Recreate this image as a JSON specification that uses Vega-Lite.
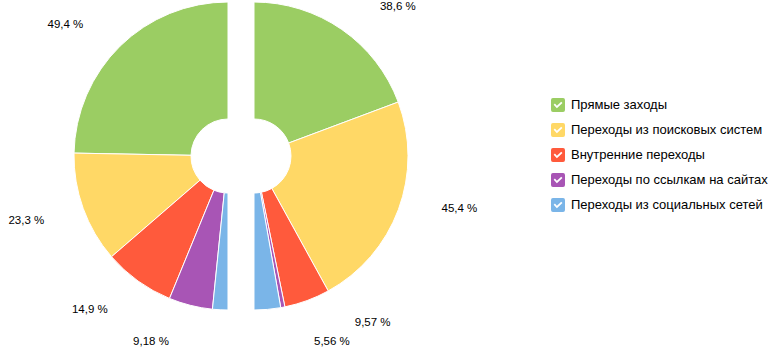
{
  "$schema": "https://vega.github.io/schema/vega-lite/v6.json",
  "width": 775,
  "height": 312,
  "autosize": "none",
  "padding": {"left": 0, "top": 0, "right": 0, "bottom": 50},
  "background": "#ffffff",
  "config": {
    "view": {"stroke": null},
    "font": "Liberation Sans",
    "locale": {
      "number": {"decimal": ",", "thousands": "\u00a0", "grouping": [3], "currency": ["", "\u00a0₽"], "percent": "\u00a0%"}
    }
  },
  "data": {
    "values": [
      {"half": "left", "source": "Прямые заходы", "k": 1, "value": 0.494},
      {"half": "left", "source": "Переходы из поисковых систем", "k": 2, "value": 0.233},
      {"half": "left", "source": "Внутренние переходы", "k": 3, "value": 0.149},
      {"half": "left", "source": "Переходы по ссылкам на сайтах", "k": 4, "value": 0.0918},
      {"half": "left", "source": "Переходы из социальных сетей", "k": 5, "value": 0.0322},
      {"half": "right", "source": "Прямые заходы", "k": 1, "value": 0.386},
      {"half": "right", "source": "Переходы из поисковых систем", "k": 2, "value": 0.454},
      {"half": "right", "source": "Внутренние переходы", "k": 3, "value": 0.0957},
      {"half": "right", "source": "Переходы по ссылкам на сайтах", "k": 4, "value": 0.0087},
      {"half": "right", "source": "Переходы из социальных сетей", "k": 5, "value": 0.0556}
    ]
  },
  "encoding": {
    "x": {"field": "half", "type": "nominal", "scale": {"type": "point", "padding": 0, "domain": ["left", "right"], "range": [228, 254]}, "axis": null},
    "order": {"field": "k", "type": "quantitative"}
  },
  "layer": [
    {
      "transform": [{"filter": "datum.half === 'left'"}],
      "mark": {"type": "arc", "outerRadius": 154, "innerRadius": 37, "stroke": "#ffffff", "strokeWidth": 1},
      "encoding": {
        "theta": {"field": "value", "type": "quantitative", "stack": true, "scale": {"domain": [0, 1], "range": [6.2832, 3.1416]}},
        "color": {
          "field": "source", "type": "nominal",
          "scale": {
            "domain": ["Прямые заходы", "Переходы из поисковых систем", "Внутренние переходы", "Переходы по ссылкам на сайтах", "Переходы из социальных сетей"],
            "range": ["#9bcd63", "#ffd866", "#ff5a3c", "#a855b5", "#7ab5e8"]
          },
          "legend": {
            "orient": "none", "legendX": 551, "legendY": 98, "title": null, "padding": 0,
            "symbolType": "M-0.72,-1L0.72,-1Q1,-1 1,-0.72L1,0.72Q1,1 0.72,1L-0.72,1Q-1,1 -1,0.72L-1,-0.72Q-1,-1 -0.72,-1ZM-0.62,-0.05L-0.16,0.45L0.64,-0.3L0.46,-0.48L-0.16,0.1L-0.44,-0.23Z",
            "symbolSize": 196, "symbolStrokeWidth": 0, "symbolOpacity": 1,
            "labelFontSize": 13, "labelFont": "Liberation Sans", "labelColor": "#000000",
            "labelOffset": 6, "rowPadding": 11, "labelLimit": 400
          }
        }
      }
    },
    {
      "transform": [{"filter": "datum.half === 'right'"}],
      "mark": {"type": "arc", "outerRadius": 154, "innerRadius": 37, "stroke": "#ffffff", "strokeWidth": 1},
      "encoding": {
        "theta": {"field": "value", "type": "quantitative", "stack": true, "scale": {"domain": [0, 1], "range": [0, 3.1416]}},
        "color": {"field": "source", "type": "nominal"}
      }
    },
    {
      "transform": [{"filter": "datum.half === 'left'"}],
      "mark": {"type": "text", "radius": 195, "align": "right", "baseline": "middle", "fontSize": 11.5, "font": "Liberation Sans", "color": "#000000"},
      "encoding": {
        "theta": {"field": "value", "type": "quantitative", "stack": true, "scale": {"domain": [0, 1], "range": [6.1785, 3.2184]}},
        "text": {"condition": {"test": "datum.value < 0.035", "value": ""}, "field": "value", "type": "quantitative", "format": ".3p"}
      }
    },
    {
      "transform": [{"filter": "datum.half === 'right'"}],
      "mark": {"type": "text", "radius": 195, "align": "left", "baseline": "middle", "fontSize": 11.5, "font": "Liberation Sans", "color": "#000000"},
      "encoding": {
        "theta": {"field": "value", "type": "quantitative", "stack": true, "scale": {"domain": [0, 1], "range": [0.1756, 2.9048]}},
        "text": {"condition": {"test": "datum.value < 0.035", "value": ""}, "field": "value", "type": "quantitative", "format": ".3p"}
      }
    }
  ],
  "resolve": {"scale": {"theta": "independent"}}
}
